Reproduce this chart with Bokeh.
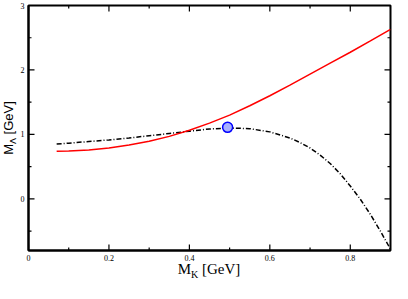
import math
from bokeh.plotting import figure
from bokeh.models import FixedTicker, LinearAxis, Div
from bokeh.layouts import row, column
from bokeh.embed import file_html
from bokeh.resources import INLINE

# ---- data ----
mk_red = [0.07, 0.1, 0.15, 0.2, 0.25, 0.3, 0.35, 0.4, 0.45, 0.5, 0.55, 0.6,
          0.65, 0.7, 0.75, 0.8, 0.85, 0.9]
m_lambda_red = [0.74, 0.745, 0.76, 0.79, 0.835, 0.895, 0.97, 1.065, 1.175,
                1.30, 1.445, 1.60, 1.765, 1.935, 2.105, 2.275, 2.45, 2.63]
mk_black = [0.07, 0.1, 0.15, 0.2, 0.25, 0.3, 0.35, 0.4, 0.45, 0.5, 0.55,
            0.6, 0.65, 0.675, 0.7, 0.725, 0.75, 0.775, 0.8, 0.825, 0.85,
            0.875, 0.9]
m_lambda_black = [0.85, 0.865, 0.89, 0.915, 0.945, 0.98, 1.015, 1.05, 1.085,
                  1.10, 1.09, 1.04, 0.945, 0.875, 0.79, 0.68, 0.55, 0.39,
                  0.20, -0.005, -0.24, -0.50, -0.78]
point_x = [0.495]
point_y = [1.11]

x_ticks = [0, 0.2, 0.4, 0.6, 0.8]
x_tick_labels = ["0", "0.2", "0.4", "0.6", "0.8"]
x_minor = [0.1, 0.3, 0.5, 0.7, 0.9]
y_ticks = [0, 1, 2, 3]
y_tick_labels = ["0", "1", "2", "3"]
y_minor = [-0.5, 0.5, 1.5, 2.5]

X_RANGE = (0, 0.9)
Y_RANGE = (-0.8, 3)

YLAB_W = 17
XLAB_H = 18
PW, PH = 392 - YLAB_W, 283 - XLAB_H
BL, BR, BT, BB = 11, 2, 5, 15
FW, FH = PW - BL - BR, PH - BT - BB

p = figure(width=PW, height=PH, x_range=X_RANGE, y_range=Y_RANGE,
           output_backend="svg", toolbar_location=None,
           min_border_left=BL, min_border_right=BR,
           min_border_top=BT, min_border_bottom=BB,
           x_axis_location=None, y_axis_location=None)
p.grid.visible = False
p.outline_line_color = "black"
p.outline_line_width = 2
p.background_fill_color = "white"
p.border_fill_color = "white"


def style_axis(ax, ticks, labels):
    ax.ticker = FixedTicker(ticks=ticks)
    ax.major_label_overrides = dict(zip(ticks, labels))
    ax.axis_line_color = "black"
    ax.axis_line_width = 2
    ax.major_tick_in = 0
    ax.major_tick_out = 0
    ax.minor_tick_in = 0
    ax.minor_tick_out = 0
    ax.major_label_text_font = "Liberation Serif"
    ax.major_label_text_color = "black"
    ax.major_label_text_font_size = "8px"
    ax.major_label_standoff = 4


xb = LinearAxis(); style_axis(xb, x_ticks, x_tick_labels)
yl = LinearAxis(); style_axis(yl, y_ticks, y_tick_labels)
p.add_layout(xb, "below")
p.add_layout(yl, "left")

# inward tick marks on all four sides (dash markers centred on the frame
# edge; the outer half is clipped away by the frame)
for xs, sz in ((x_ticks, 12), (x_minor, 6)):
    for yedge in Y_RANGE:
        p.scatter(xs, [yedge] * len(xs), marker="dash", size=sz,
                  angle=math.pi / 2, line_color="black", line_width=1.2)
for ys, sz in ((y_ticks, 12), (y_minor, 6)):
    for xedge in X_RANGE:
        p.scatter([xedge] * len(ys), ys, marker="dash", size=sz,
                  line_color="black", line_width=1.2)

p.line(mk_black, m_lambda_black, line_color="black", line_width=1.5,
       line_dash="5 2 1 2")
p.line(mk_red, m_lambda_red, line_color="#ff0000", line_width=1.5)
p.scatter(point_x, point_y, size=10, fill_color="#a8b0ff",
          line_color="#0000ff", line_width=1.5)

# axis titles with subscripts, as real HTML text
xlab_html = (
    f'<div style="position:relative;top:-3px;margin-left:{BL}px;width:{FW}px;'
    'text-align:center;white-space:nowrap;font-family:\'Liberation Serif\';'
    'font-size:15px;line-height:15px;color:black;">'
    'M<span style="font-size:10px;position:relative;top:3.5px;">K</span>'
    ' [GeV]</div>'
)
ylab_html = (
    f'<div style="position:absolute;left:2px;top:{BT + FH / 2}px;'
    'transform-origin:0 0;transform:rotate(-90deg) translateX(-50%);'
    'white-space:nowrap;font-family:\'Liberation Sans\';font-size:13px;'
    'line-height:13px;color:black;">'
    'M<span style="font-size:9px;position:relative;top:3px;">Λ</span>'
    ' [GeV]</div>'
)
xdiv = Div(text=xlab_html, width=PW, height=XLAB_H, margin=0)
ydiv = Div(text=ylab_html, width=YLAB_W, height=PH, margin=0)

layout = row(ydiv, column(p, xdiv, spacing=0), spacing=0)

open("out.html", "w").write(file_html(layout, INLINE))
